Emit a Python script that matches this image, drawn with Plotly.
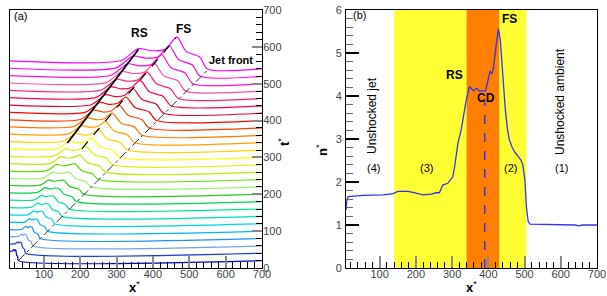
import plotly.graph_objects as go

# ---------------- Panel (a): waterfall of profiles ----------------
times = [20, 40, 60, 80, 100, 120, 140, 160, 180, 200, 220, 240, 260, 280,
         300, 320, 340, 360, 380, 400, 420, 440, 460, 480, 500, 520, 540]
# reverse-shock ridge, forward-shock peak and jet-front positions (x*) per profile
rs_x = [17, 28, 39, 50, 61, 72, 83, 94, 104, 114, 125, 136, 148, 160,
        172, 188, 204, 220, 238, 254, 270, 285, 300, 315, 330, 345, 360]
fs_x = [23, 38, 52, 67, 82, 97, 112, 127, 141, 155, 170, 185, 200, 216,
        231, 250, 269, 288, 307, 326, 345, 365, 384, 404, 424, 445, 466]
jf_x = [30, 50, 70, 90, 110, 130, 150, 170, 190, 210, 230, 250, 270, 290,
        310, 330, 350, 370, 390, 410, 430, 450, 470, 490, 510, 530, 550]
# heights above each profile's baseline (in t* units)
jet_off = [25, 25, 25, 24, 24, 24, 24, 24, 24, 24, 23, 23, 23, 23,
           23, 23, 23, 23, 22, 22, 22, 22, 22, 22, 22, 22, 22]
rs_off = [30, 31, 32, 33, 34, 35, 36, 37, 38, 39, 40, 41, 42, 43,
          44, 45, 46, 47, 48, 49, 50, 51, 52, 53, 54, 55, 55]
fs_off = [28, 29, 30, 31, 32, 33, 34, 35, 36, 38, 40, 43, 46, 50,
          53, 56, 58, 60, 62, 64, 67, 69, 72, 75, 79, 83, 87]
colors = ["#0000c8", "#1a3cdc", "#78a0f0", "#1e90ff", "#00b4ff", "#00d2e6",
          "#00dcb4", "#00e68c", "#00d250", "#28c828", "#a0f078", "#64dc00",
          "#b4f000", "#dcf000", "#ffff00", "#ffd200", "#ffa000", "#ff7800",
          "#ff3c00", "#ff0000", "#e6003c", "#ff0050", "#ff1e78", "#ff50a0",
          "#ff14c8", "#ff00e6", "#ff00ff"]
x_start, x_end = 7, 700

rs_line_x, rs_line_t = [165, 360], [339, 593]
fs_line_x, fs_line_t = [205, 464], [324, 625]
jf_line_x, jf_line_t = [30, 550], [20, 537]

# ---------------- Panel (b): density profile ----------------
xb = [7, 9, 12.7, 54, 109, 137, 150, 178, 201, 219, 242, 256, 265, 274, 288,
      302, 307, 311, 316, 325, 339, 348, 359, 368, 375, 392, 398, 405, 410,
      414, 421, 428, 433, 440, 447, 453, 458, 466, 474, 482, 490, 495, 501,
      505, 510, 515, 560, 640, 650, 660, 700]
nb = [1.35, 1.55, 1.66, 1.69, 1.70, 1.73, 1.78, 1.78, 1.74, 1.70, 1.72, 1.75,
      1.75, 1.93, 1.97, 2.12, 2.36, 2.59, 2.90, 3.21, 3.91, 4.22, 4.12, 4.18,
      4.12, 4.12, 4.33, 4.57, 4.53, 4.64, 5.15, 5.57, 5.30, 4.37, 3.67, 3.21,
      2.98, 2.80, 2.68, 2.60, 2.51, 2.40, 2.05, 1.43, 1.08, 1.02, 1.01, 1.0,
      0.98, 1.0, 1.0]
region_shocked = [140, 505]
region_cd = [340, 430]
cd_x, cd_n = [390, 390], [0, 3.87]

FONT = "Liberation Sans"
fig = go.Figure()

for i, t in enumerate(times):
    rs, fs, jf = rs_x[i], fs_x[i], jf_x[i]
    xs = [x_start, rs - 0.25 * (jf - rs), rs, rs + 0.35 * (fs - rs),
          rs + 0.7 * (fs - rs), fs, fs + 0.3 * (jf - fs), fs + 0.75 * (jf - fs),
          jf, x_end]
    offs = [jet_off[i], jet_off[i] + 1, rs_off[i], 0.9 * rs_off[i],
            0.97 * rs_off[i], fs_off[i], 0.55 * fs_off[i], 0.37 * fs_off[i],
            0, 0]
    fig.add_trace(go.Scatter(
        x=xs, y=[t + o for o in offs], mode="lines",
        line=dict(color=colors[i], width=1.2, shape="spline", smoothing=0.7),
        xaxis="x", yaxis="y", showlegend=False, hoverinfo="skip"))

fig.add_trace(go.Scatter(x=jf_line_x, y=jf_line_t, mode="lines",
                         line=dict(color="#333", width=1, dash="dashdot"),
                         xaxis="x", yaxis="y", showlegend=False))
fig.add_trace(go.Scatter(x=fs_line_x, y=fs_line_t, mode="lines",
                         line=dict(color="black", width=1.2, dash="dash"),
                         xaxis="x", yaxis="y", showlegend=False))
fig.add_trace(go.Scatter(x=rs_line_x, y=rs_line_t, mode="lines",
                         line=dict(color="black", width=1.8),
                         xaxis="x", yaxis="y", showlegend=False))

fig.add_trace(go.Scatter(x=xb, y=nb, mode="lines",
                         line=dict(color="#3333ee", width=1.3),
                         xaxis="x2", yaxis="y2", showlegend=False))
fig.add_trace(go.Scatter(x=cd_x, y=cd_n, mode="lines",
                         line=dict(color="#3333ee", width=1.5, dash="dash"),
                         xaxis="x2", yaxis="y2", showlegend=False))

fig.add_shape(type="rect", xref="x2", yref="y2", x0=region_shocked[0],
              x1=region_shocked[1], y0=0, y1=6, fillcolor="#ffff33",
              line=dict(width=0), layer="below")
fig.add_shape(type="rect", xref="x2", yref="y2", x0=region_cd[0],
              x1=region_cd[1], y0=0, y1=6, fillcolor="#ff8000",
              line=dict(width=0), layer="below")

tickfont = dict(family=FONT, size=11, color="#444")
common_x = dict(range=[7, 700], tickmode="linear", tick0=0, dtick=100,
                ticks="inside", ticklen=12, tickwidth=2, tickcolor="#888",
                minor=dict(dtick=20, ticks="inside", ticklen=6,
                           tickcolor="black", tickwidth=1),
                showline=True, linecolor="black", linewidth=1, mirror=True,
                showgrid=False, zeroline=False, tickfont=tickfont,
                automargin=False, ticklabelstandoff=-4)

fig.update_layout(
    width=607, height=296,
    margin=dict(l=10, r=10, t=10, b=28, autoexpand=False),
    paper_bgcolor="white", plot_bgcolor="white",
    xaxis=dict(domain=[0, 0.4293], anchor="y", **common_x),
    yaxis=dict(domain=[0, 1], anchor="x", side="right", range=[0, 700],
               tickmode="linear", tick0=0, dtick=100, ticks="inside",
               ticklen=10, tickwidth=2, tickcolor="#888",
               minor=dict(dtick=20, ticks="inside", ticklen=6,
                          tickcolor="black", tickwidth=1),
               showline=True, linecolor="black", linewidth=1, mirror=True,
               showgrid=False, zeroline=False, tickfont=tickfont,
               automargin=False, ticklabelstandoff=-2),
    xaxis2=dict(domain=[0.5724, 1], anchor="y2", **common_x),
    yaxis2=dict(domain=[0, 1], anchor="x2", range=[0, 6], tickmode="linear",
                tick0=0, dtick=1, ticks="inside", ticklen=13, tickwidth=1.5,
                tickcolor="black",
                minor=dict(dtick=0.2, ticks="inside", ticklen=7,
                           tickcolor="#666", tickwidth=1),
                showline=True, linecolor="black", linewidth=1, mirror=True,
                showgrid=False, zeroline=False, tickfont=tickfont,
                automargin=False, ticklabelstandoff=1),
    font=dict(family=FONT, color="black"),
)


def ann(text, px, py, size=12, angle=0):
    fig.add_annotation(text=text,
                       x=(px - 10) / 587, y=(268 - py) / 258,
                       xref="paper", yref="paper", showarrow=False,
                       xanchor="center", yanchor="middle", textangle=angle,
                       font=dict(family=FONT, size=size, color="black"))


ann("(a)", 20, 16, 11)
ann("<b>RS</b>", 139, 33, 12)
ann("<b>FS</b>", 183, 29, 12)
ann("<b>Jet front</b>", 231, 60, 11)
ann("<b>x</b><sup>*</sup>", 134, 287, 13)
ann("<b>t</b><sup>*</sup>", 284, 142, 13, angle=-90)

ann("(b)", 359, 15, 11)
ann("<b>RS</b>", 454, 75, 12)
ann("<b>CD</b>", 486, 98, 12)
ann("<b>FS</b>", 509, 19, 12)
ann("Unshocked jet", 372, 116, 12, angle=-90)
ann("Unshocked ambient", 560, 102, 12, angle=-90)
ann("(4)", 373, 168, 11)
ann("(3)", 426, 168, 11)
ann("(2)", 510, 168, 11)
ann("(1)", 561, 168, 11)
ann("<b>n</b><sup>*</sup>", 322, 150, 13, angle=-90)
ann("<b>x</b><sup>*</sup>", 471, 287, 13)

fig.write_html("out.html",
               config={"displayModeBar": False, "staticPlot": True},
               post_script="document.body.style.margin='0px';"
                           "document.body.style.overflow='hidden';")
